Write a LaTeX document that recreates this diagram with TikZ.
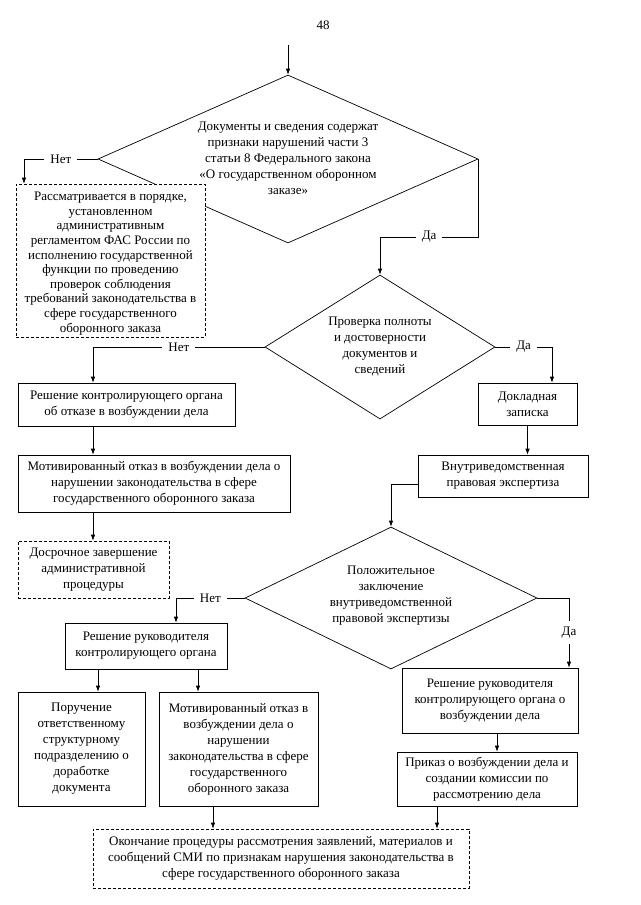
\documentclass[tikz,border=0pt]{standalone}
\usepackage{fontspec}
\setmainfont{Liberation Serif}
\usetikzlibrary{shapes.geometric,arrows.meta}
\begin{document}
\begin{tikzpicture}[x=1pt,y=-1pt,
  font=\fontsize{13}{16}\selectfont,
  line width=0.7pt,
  box/.style={draw, fill=white, align=center, inner sep=0pt},
  dbox/.style={box, dash pattern=on 3pt off 2pt},
  dia/.style={draw, diamond, inner sep=0pt},
  txt/.style={align=center, inner sep=0pt},
  lbl/.style={fill=white, inner xsep=6pt, inner ysep=1pt},
  arr/.style={-{Latex[length=6pt,width=4.5pt]}}]
\useasboundingbox (0,0) rectangle (640,905);

\node[txt] (pg) at (323,25) {48};

% diamonds
\node[dia, minimum width=380pt, minimum height=168pt] (d1) at (288,159) {};
\node[txt] (d1t) at (288,158) {Документы и сведения содержат\\признаки нарушений части 3\\статьи 8 Федерального закона\\«О государственном оборонном\\заказе»};
\node[dia, minimum width=230pt, minimum height=144pt] (d2) at (380,347) {};
\node[txt] (d2t) at (380,346) {Проверка полноты\\и достоверности\\документов и\\сведений};
\node[dia, minimum width=292pt, minimum height=142pt] (d3) at (391,598) {};
\node[txt] (d3t) at (391,596) {Положительное\\заключение\\внутриведомственной\\правовой экспертизы};

% boxes
\node[dbox, minimum width=189pt, minimum height=153pt] (box1) at (110.5,260.5) {};
\node[txt, font=\fontsize{13}{14.6}\selectfont] (box1t) at (110.5,263.5) {Рассматривается в порядке,\\установленном\\административным\\регламентом ФАС России по\\исполнению государственной\\функции по проведению\\проверок соблюдения\\требований законодательства в\\сфере государственного\\оборонного заказа};
\node[box, minimum width=217pt, minimum height=43pt] (b1) at (126.5,404.5) {Решение контролирующего органа\\об отказе в возбуждении дела};
\node[box, minimum width=272pt, minimum height=57pt] (m1) at (154,483.5) {Мотивированный отказ в возбуждении дела о\\нарушении законодательства в сфере\\государственного оборонного заказа};
\node[dbox, minimum width=151pt, minimum height=57pt] (dos) at (93.5,569.5) {Досрочное завершение\\административной\\процедуры};
\node[box, minimum width=99pt, minimum height=42pt] (dok) at (527.5,404) {Докладная\\записка};
\node[box, minimum width=170pt, minimum height=42pt] (vn) at (503,476) {Внутриведомственная\\правовая экспертиза};
\node[box, minimum width=162pt, minimum height=46pt] (br1) at (146,646) {Решение руководителя\\контролирующего органа};
\node[box, minimum width=127pt, minimum height=114pt] (por) at (81.5,749) {Поручение\\ответственному\\структурному\\подразделению о\\доработке\\документа};
\node[box, minimum width=159pt, minimum height=114pt] (m2) at (238.5,749) {Мотивированный отказ в\\возбуждении дела о\\нарушении\\законодательства в сфере\\государственного\\оборонного заказа};
\node[box, minimum width=176pt, minimum height=65pt] (rv) at (490,700.5) {Решение руководителя\\контролирующего органа о\\возбуждении дела};
\node[box, minimum width=180pt, minimum height=54pt] (pr) at (487,779) {Приказ о возбуждении дела и\\создании комиссии по\\рассмотрению дела};
\node[dbox, minimum width=376pt, minimum height=59pt] (fin) at (281,858.5) {Окончание процедуры рассмотрения заявлений, материалов и\\сообщений СМИ по признакам нарушения законодательства в\\сфере государственного оборонного заказа};

% connectors
\coordinate (top) at (288,45);
\draw[arr] (top) -- (d1.north);
\coordinate (n1) at (24,159);
\draw[arr] (d1.west) -- node[lbl]{Нет} (n1) -- (n1 |- box1.north);
\coordinate (y1) at (380,237);
\draw[arr] (d1.east) |- node[lbl,pos=0.75]{Да} (y1) -- (d2.north);
\coordinate (n2) at (93,347);
\draw[arr] (d2.west) -- node[lbl]{Нет} (n2) -- (n2 |- b1.north);
\coordinate (y2) at (552,347);
\draw[arr] (d2.east) -- node[lbl]{Да} (y2) -- (y2 |- dok.north);
\draw[arr] (b1.south -| n2) -- (m1.north -| n2);
\draw[arr] (m1.south -| n2) -- (dos.north -| n2);
\draw[arr] (dok.south) -- (dok.south |- vn.north);
\draw[arr] ([yshift=-8pt]vn.west) -| (d3.north);
\coordinate (n3) at (176,598);
\draw[arr] (d3.west) -- node[lbl]{Нет} (n3) -- (n3 |- br1.north);
\coordinate (y3) at (569,598);
\draw[arr] (d3.east) -- (y3) -- node[lbl, inner xsep=1pt, inner ysep=6pt]{Да} (y3 |- rv.north);
\draw[arr] ([xshift=-48pt]br1.south) -- ([xshift=-48pt]br1.south |- por.north);
\draw[arr] ([xshift=52pt]br1.south) -- ([xshift=52pt]br1.south |- m2.north);
\draw[arr] ([xshift=7pt]rv.south) -- ([xshift=7pt]rv.south |- pr.north);
\draw[arr] ([xshift=-25.5pt]m2.south) -- ([xshift=-25.5pt]m2.south |- fin.north);
\draw[arr] ([xshift=-50pt]pr.south) -- ([xshift=-50pt]pr.south |- fin.north);
\end{tikzpicture}
\end{document}
